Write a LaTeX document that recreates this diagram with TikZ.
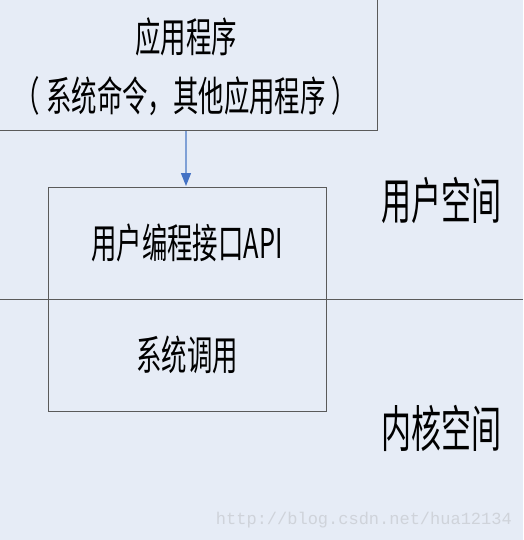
\documentclass[tikz,border=0pt]{standalone}
\usepackage{fontspec}
\newfontfamily\cjk{Noto Sans CJK SC}
\setmonofont{Liberation Mono}
\usetikzlibrary{arrows.meta}
\definecolor{bg}{HTML}{E6ECF6}
\definecolor{edge}{HTML}{5A5A5A}
\definecolor{arr}{HTML}{7FA0D6}
\definecolor{arrtip}{HTML}{4472C4}
\definecolor{wm}{HTML}{CFD3DA}
\tikzset{
  box/.style={draw=edge, line width=1pt},
  lbl/.style={font=\cjk\fontsize{41}{48}\selectfont, xscale=0.62, inner sep=0pt},
  side/.style={font=\cjk\fontsize{50}{58}\selectfont, xscale=0.6, inner sep=0pt},
}
\begin{document}
\begin{tikzpicture}[x=1pt,y=-1pt]
\fill[bg] (0,0) rectangle (523,540);
\useasboundingbox (0,0) rectangle (523,540);
\draw[box] (-1,-1) rectangle (377,131);
\coordinate (topb) at (186,131);
\node[lbl] (app1) at (186,37) {应用程序};
\node[lbl] (app2) at (186,96) {（\hspace{10pt}系统命令，其他应用程序\hspace{10pt}）};
\draw[box] (48,187) rectangle (326,411);
\coordinate (boxt) at (186,186);
\draw[arr, line width=1.2pt, -{Triangle[length=13pt,width=10pt,fill=arrtip,color=arrtip]}] (topb) -- (boxt);
\coordinate (dl) at (0,299);
\coordinate (dr) at (523,299);
\draw[edge, line width=1pt] (dl) -- (dr);
\node[lbl] (api) at (187,243) {用户编程接口API};
\node[lbl] (sys) at (187,355) {系统调用};
\node[side] (user) at (441,200) {用户空间};
\node[side] (kern) at (441,428) {内核空间};
\node[text=wm, font=\ttfamily\fontsize{17}{20}\selectfont, anchor=east, inner sep=0pt] (wmark) at (512,520) {http://blog.csdn.net/hua12134};
\end{tikzpicture}
\end{document}
